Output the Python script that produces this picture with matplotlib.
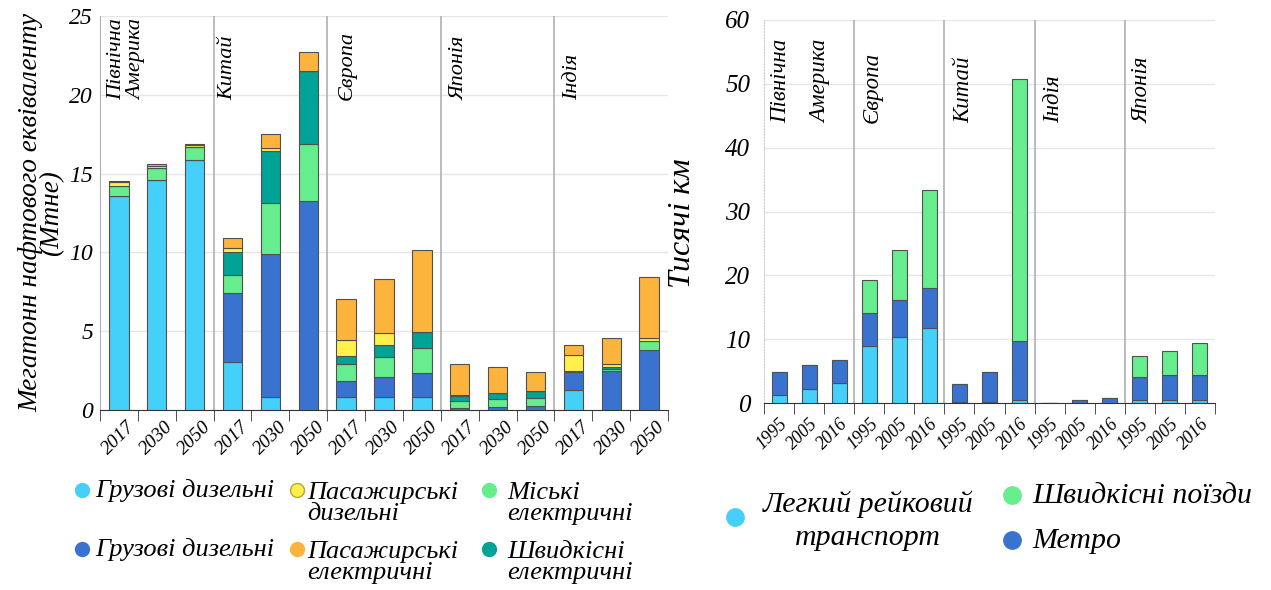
import numpy as np
import matplotlib
matplotlib.use("Agg")
from matplotlib import pyplot as plt
from matplotlib.lines import Line2D

plt.rcParams['font.family'] = ['Liberation Serif', 'DejaVu Serif']
plt.rcParams['font.style'] = 'italic'

# ---- left chart data (Mtoe) ----
years_left = ['2017', '2030', '2050'] * 5
regions_left = ['Північна\nАмерика', 'Кита\u0439', 'Європа', 'Японія', 'Індія']
freight_diesel = [13.6, 14.6, 15.85, 3.05, 0.8, 0.0, 0.85, 0.85, 0.85, 0.0, 0.0, 0.0, 1.25, 0.0, 0.0]
freight_elec = [0.0, 0.0, 0.0, 4.35, 9.1, 13.25, 1.0, 1.25, 1.5, 0.1, 0.2, 0.25, 1.15, 2.47, 3.8]
urban_elec = [0.6, 0.75, 0.85, 1.15, 3.25, 3.65, 1.05, 1.25, 1.6, 0.5, 0.5, 0.5, 0.05, 0.15, 0.6]
hs_elec = [0.0, 0.0, 0.0, 1.45, 3.3, 4.6, 0.5, 0.75, 1.0, 0.3, 0.37, 0.45, 0.05, 0.1, 0.0]
pass_diesel = [0.25, 0.15, 0.1, 0.3, 0.2, 0.0, 1.05, 0.8, 0.0, 0.05, 0.0, 0.0, 1.0, 0.2, 0.15]
pass_elec = [0.1, 0.1, 0.1, 0.6, 0.85, 1.2, 2.6, 3.4, 5.2, 1.95, 1.65, 1.2, 0.6, 1.65, 3.9]
legend_left = ['Грузові дизельні', 'Пасажирські\nдизельні', 'Міські\nелектричні',
               'Грузові дизельні', 'Пасажирські\nелектричні', 'Швидкісні\nелектричні']

# ---- right chart data (thousand km) ----
years_right = ['1995', '2005', '2016'] * 5
regions_right = ['Північна\nАмерика', 'Європа', 'Кита\u0439', 'Індія', 'Японія']
light_rail = [1.3, 2.25, 3.2, 8.9, 10.3, 11.8, 0.1, 0.1, 0.45, 0.0, 0.0, 0.0, 0.45, 0.45, 0.45]
metro = [3.55, 3.65, 3.6, 5.2, 5.85, 6.2, 2.9, 4.75, 9.2, 0.0, 0.4, 0.75, 3.65, 4.0, 4.0]
high_speed = [0.0, 0.0, 0.0, 5.1, 7.75, 15.35, 0.0, 0.0, 41.15, 0.0, 0.0, 0.0, 3.2, 3.65, 4.95]
legend_right = ['Легки\u0439 ре\u0439ковий\nтранспорт', 'Швидкісні поїзди', 'Метро']

c_light = '#45d0fa'
c_dark = '#3a72cf'
c_green = '#66ee8e'
c_teal = '#00a395'
c_yellow = '#fff04d'
c_orange = '#fdb43c'
edge = '#505050'

W, H = 1271, 590
fig = plt.figure(figsize=(W / 100, H / 100), dpi=100)
ax1 = fig.add_axes([100 / W, 1 - 410 / H, 568 / W, 394 / H])
ax2 = fig.add_axes([764 / W, 1 - 403 / H, 451 / W, 383 / H])

def style_axes(ax, n, ymax, step):
    ax.set_xlim(-0.5, n - 0.5)
    ax.set_ylim(0, ymax)
    ax.set_yticks(np.arange(0, ymax + 1, step))
    ax.yaxis.grid(True, color='#e6e6e6', lw=1)
    ax.set_axisbelow(True)
    for s in ['top', 'right']:
        ax.spines[s].set_visible(False)
    ax.spines['bottom'].set_color('#333333')
    ax.set_xticks(np.arange(n))
    ax.set_xticks(np.arange(-0.5, n, 1), minor=True)
    ax.tick_params(axis='x', which='major', length=0, pad=6)
    ax.tick_params(axis='x', which='minor', length=8, color='#333333', direction='out')
    for xs in [2.5, 5.5, 8.5, 11.5]:
        ax.axvline(xs, color='#b0b0b0', lw=1.2, zorder=1)

x = np.arange(15)

# left stacked bars
series_left = [(freight_diesel, c_light), (freight_elec, c_dark), (urban_elec, c_green),
               (hs_elec, c_teal), (pass_diesel, c_yellow), (pass_elec, c_orange)]
bottom = np.zeros(15)
for vals, col in series_left:
    v = np.array(vals)
    ax1.bar(x, v, 0.51, bottom=bottom, color=col, edgecolor=edge, lw=0.8, zorder=3)
    bottom += v
style_axes(ax1, 15, 25, 5)
ax1.tick_params(axis='y', length=0, pad=5, labelsize=17)
ax1.spines['left'].set_color('#b0b0b0')
ax1.set_xticklabels(years_left, rotation=45, fontsize=14, ha='center', va='top')
ax1.set_ylabel('Мегатонн нафтового еквіваленту\n(Mтне)', fontsize=19.5, linespacing=0.75, labelpad=4)
lx = [-0.32, 2.62, 5.77, 8.74, 11.73]
for xp, name in zip(lx, regions_left):
    ax1.text(xp, 19.67, name, rotation=90, ha='left', va='bottom', fontsize=16, linespacing=1.1)

# right stacked bars
series_right = [(light_rail, c_light), (metro, c_dark), (high_speed, c_green)]
bottom = np.zeros(15)
for vals, col in series_right:
    v = np.array(vals)
    ax2.bar(x, v, 0.5, bottom=bottom, color=col, edgecolor=edge, lw=0.8, zorder=3)
    bottom += v
style_axes(ax2, 15, 60, 10)
ax2.tick_params(axis='y', length=0, pad=10, labelsize=18)
ax2.spines['left'].set_color('#cccccc')
ax2.spines['left'].set_linestyle(':')
ax2.set_xticklabels(years_right, rotation=45, fontsize=13, ha='right', va='top',
                    rotation_mode='anchor')
ax2.tick_params(axis='x', which='major', pad=9)
ax2.set_ylabel('Тисячі км', fontsize=23)
ax2.yaxis.set_label_coords(-0.148, 0.47)
rx = [-0.3, 2.76, 5.79, 8.78, 11.74]
for xp, name in zip(rx, regions_right):
    ax2.text(xp, 43.9, name, rotation=90, ha='left', va='bottom', fontsize=16.5, linespacing=2.2)

def fx(px):
    return px / W

def fy(py):
    return 1 - py / H

def dot(px, py, col, size, ec=None):
    fig.add_artist(Line2D([fx(px)], [fy(py)], marker='o', ls='', markersize=size,
                          markerfacecolor=col, markeredgecolor=ec or col,
                          transform=fig.transFigure))

# left legend, laid out as in the source (two rows, three columns);
# multi-line labels are anchored on the baseline of their last line
cols_left = [c_light, c_yellow, c_green, c_dark, c_orange, c_teal]
mx = [82, 297, 489]
tx = [95, 307, 507]
my = [490, 549]
for i, (lab, col) in enumerate(zip(legend_left, cols_left)):
    r, c = divmod(i, 3)
    nl = lab.count('\n')
    dot(mx[c], my[r], col, 10, '#b5a82a' if col == c_yellow else None)
    fig.text(fx(tx[c]), fy(my[r] + 7 + 23 * nl), lab, fontsize=19, ha='left', va='baseline',
             linespacing=0.92)

# right legend
dot(735, 517, c_light, 12.5)
fig.text(fx(868), fy(545), legend_right[0], fontsize=21.5, ha='center', va='baseline',
         multialignment='center', linespacing=1.33)
dot(1012, 495, c_green, 12.5)
fig.text(fx(1032), fy(503), legend_right[1], fontsize=21.5, ha='left', va='baseline')
dot(1012, 540, c_dark, 12.5)
fig.text(fx(1032), fy(548), legend_right[2], fontsize=21.5, ha='left', va='baseline')

fig.savefig('out.png', dpi=100)
